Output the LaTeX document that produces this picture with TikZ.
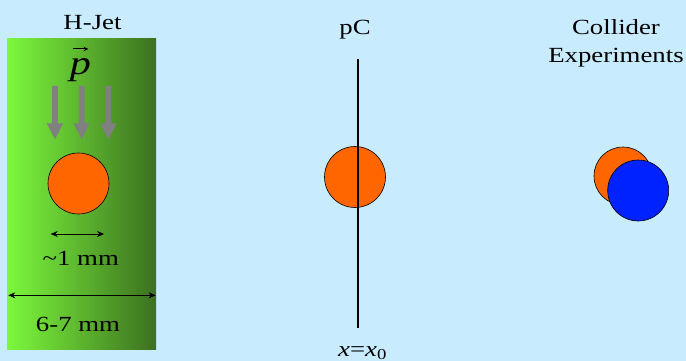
\documentclass[tikz,border=0pt]{standalone}
\usepackage{fontspec}
\setmainfont[FakeStretch=1.24]{Liberation Serif}
\usetikzlibrary{arrows.meta}
\definecolor{bg}{RGB}{200,235,254}
\definecolor{jetlight}{RGB}{124,248,60}
\definecolor{jetdark}{RGB}{60,112,32}
\definecolor{beamorange}{RGB}{255,102,0}
\definecolor{beamblue}{RGB}{0,34,255}
\definecolor{arrowgray}{RGB}{128,128,128}
\begin{document}
\begin{tikzpicture}[x=1pt,y=-1pt,
  lbl/.style={font=\fontsize{21.6}{27.7}\selectfont, inner sep=0pt, anchor=base, align=center},
  bunch/.style={circle, draw=black, line width=0.6pt, inner sep=0pt, minimum size=61pt},
  dimarrow/.style={line width=0.8pt, {Stealth[length=7pt,width=6pt]}-{Stealth[length=7pt,width=6pt]}},
  grayarrow/.style={fill=arrowgray}]
\fill[bg] (0,0) rectangle (686,361);
\useasboundingbox (0,0) rectangle (686,361);
% H-Jet target
\shade[left color=jetlight, right color=jetdark] (7,39) rectangle (156,349);
\node[lbl] (hjet) at (92.5,29.3) {H-Jet};
\node[inner sep=0pt, anchor=base, font=\fontsize{34}{34}\selectfont] (pvec) at (80.5,74.5) {\textit{p}};
\coordinate (vecl) at (73,49);
\coordinate (vecr) at (88.5,49);
\draw[line width=1pt, -{Stealth[length=5pt,width=4.5pt]}] (vecl) -- (vecr);
\foreach \cx in {55,81.7,108.3}{
  \fill[grayarrow] (\cx-2.9,86) -- (\cx+2.9,86) -- (\cx+2.9,123.3) -- (\cx+8.3,123.3)
     -- (\cx,139.3) -- (\cx-8.3,123.3) -- (\cx-2.9,123.3) -- cycle;
}
\node[bunch, fill=beamorange] (b1) at (78.5,183.5) {};
\coordinate (d1l) at (50.7,234);
\coordinate (d1r) at (104,234);
\draw[dimarrow] (d1l) -- (d1r);
\node[lbl] (onemm) at (80.8,265) {\textasciitilde1 mm};
\coordinate (d2l) at (8.3,295.3);
\coordinate (d2r) at (155.7,295.3);
\draw[dimarrow] (d2l) -- (d2r);
\node[lbl] (sevenmm) at (78,331.7) {6-7 mm};
% pC
\node[lbl] (pc) at (355,35) {pC};
\node[bunch, fill=beamorange] (b2) at (355,177) {};
\coordinate (ltop) at (358.3,59.3);
\coordinate (lbot) at (358.3,328.3);
\draw[line width=2pt] (ltop) -- (lbot);
\node[lbl] (xx0) at (362.5,356) {\textit{x}=\textit{x}\textsubscript{0}};
% Collider
\node[lbl] (coll) at (616,62.7) {Collider\\Experiments};
\node[bunch, fill=beamorange, minimum size=58pt] (b3) at (623,176) {};
\node[bunch, fill=beamblue] (b4) at (638.2,190.5) {};
\end{tikzpicture}
\end{document}
